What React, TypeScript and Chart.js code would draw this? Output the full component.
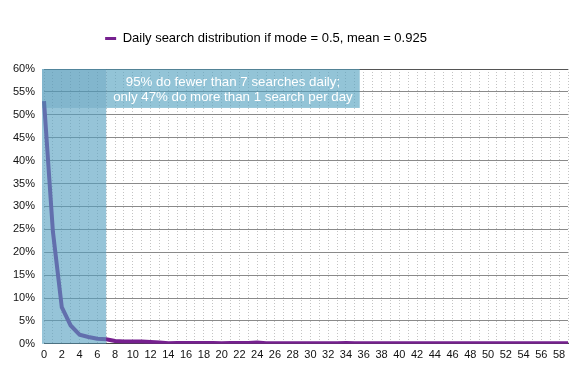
import React, { useEffect, useRef } from "react";
import { Chart, registerables } from "chart.js";

Chart.register(...registerables);

const categories: string[] = Array.from({ length: 60 }, (_, i) => String(i));
const seriesLabel = "Daily search distribution if mode = 0.5, mean = 0.925";
const seriesValues: number[] = [
  53, 24.5, 8, 4, 2, 1.5, 1.1, 1.0, 0.6, 0.5,
  0.5, 0.5, 0.4, 0.3, 0.1, 0.15, 0.2, 0.2, 0.2, 0.15,
  0.1, 0.15, 0.2, 0.15, 0.3, 0.1, 0.1, 0.1, 0.1, 0.1,
  0.1, 0.1, 0.1, 0.1, 0.15, 0.1, 0.1, 0.1, 0.1, 0.1,
  0.1, 0.1, 0.1, 0.1, 0.1, 0.1, 0.1, 0.1, 0.1, 0.1,
  0.1, 0.1, 0.1, 0.1, 0.1, 0.1, 0.1, 0.1, 0.1, 0.1,
];
const shadeEndCategory = 7;
const annotationLines = [
  "95% do fewer than 7 searches daily;",
  "only 47% do more than 1 search per day",
];

const FONT = "'Liberation Sans', Arial, Helvetica, sans-serif";
const PURPLE = "#76208f";

const shadePlugin = {
  id: "shade",
  afterDatasetsDraw(chart: any) {
    const { ctx, chartArea, scales } = chart;
    const x = scales.x;
    const xEnd = x.getPixelForValue(shadeEndCategory);
    ctx.save();
    ctx.fillStyle = "rgba(85,160,192,0.62)";
    ctx.fillRect(chartArea.left - 2, chartArea.top, xEnd - chartArea.left + 2, chartArea.bottom - chartArea.top);
    const boxRight = x.getPixelForValue(36) - 4;
    const boxBottom = scales.y.getPixelForValue(51.5);
    ctx.fillStyle = "rgba(80,160,190,0.62)";
    ctx.fillRect(xEnd, chartArea.top, boxRight - xEnd, boxBottom - chartArea.top);
    ctx.fillStyle = "rgba(70,140,170,0.25)";
    ctx.fillRect(chartArea.left - 2, chartArea.top, xEnd - chartArea.left + 2, boxBottom - chartArea.top);
    ctx.fillStyle = "#ffffff";
    ctx.font = `13.3px ${FONT}`;
    ctx.textAlign = "center";
    ctx.textBaseline = "middle";
    const cx = (xEnd + boxRight) / 2;
    ctx.fillText(annotationLines[0], cx, chartArea.top + 13.5);
    ctx.fillText(annotationLines[1], cx, chartArea.top + 28.5);
    ctx.restore();
  },
};

const legendSpacePlugin = {
  id: "legendSpace",
  afterInit(chart: any) {
    const legend = chart.legend;
    if (!legend) return;
    const fit = legend.fit;
    legend.fit = function () {
      fit.call(this);
      this.height += 14;
    };
  },
  afterLayout(chart: any) {
    const legend = chart.legend;
    if (!legend) return;
    legend.left -= 40;
  },
};

export default function App() {
  const ref = useRef<HTMLCanvasElement | null>(null);
  useEffect(() => {
    document.body.style.margin = "0";
    if (!ref.current) return;
    const chart = new Chart(ref.current, {
      type: "line",
      data: {
        labels: categories,
        datasets: [
          {
            label: seriesLabel,
            data: seriesValues,
            borderColor: PURPLE,
            backgroundColor: PURPLE,
            borderWidth: 4,
            pointRadius: 0,
            tension: 0,
          },
        ],
      },
      options: {
        animation: false,
        responsive: false,
        layout: { padding: { top: 18, left: 4, right: 16, bottom: 9 } },
        plugins: {
          tooltip: { enabled: false },
          legend: {
            labels: {
              font: { family: FONT, size: 13 },
              color: "#111",
              boxWidth: 11,
              boxHeight: 3,
              padding: 14,
              generateLabels: () => [
                {
                  text: seriesLabel,
                  fillStyle: PURPLE,
                  strokeStyle: PURPLE,
                  lineWidth: 0,
                  datasetIndex: 0,
                  hidden: false,
                } as any,
              ],
            },
          },
        },
        scales: {
          x: {
            offset: false,
            grid: {
              color: "#c4c4c4",
              lineWidth: 1,
              drawTicks: false,
            },
            border: { display: true, color: "#444", dash: [1, 2] } as any,
            ticks: {
              autoSkip: false,
              maxRotation: 0,
              padding: 5,
              font: { family: FONT, size: 11 },
              color: "#111",
              callback: (_v: any, i: number) => (i % 2 === 0 ? categories[i] : ""),
            },
          },
          y: {
            min: 0,
            max: 60,
            grid: {
              color: (c: any) => (c.tick && c.tick.value === 60 ? "#555" : "#8a8a8a"),
              lineWidth: 1,
              drawTicks: false,
            },
            border: { display: false },
            ticks: {
              stepSize: 5,
              padding: 9,
              font: { family: FONT, size: 11 },
              color: "#111",
              callback: (v: any) => `${v}%`,
            },
          },
        },
      },
      plugins: [shadePlugin, legendSpacePlugin],
    } as any);
    return () => chart.destroy();
  }, []);
  return (
    <div style={{ width: 584, height: 376 }}>
      <canvas ref={ref} width={584} height={376} style={{ display: "block" }} />
    </div>
  );
}
